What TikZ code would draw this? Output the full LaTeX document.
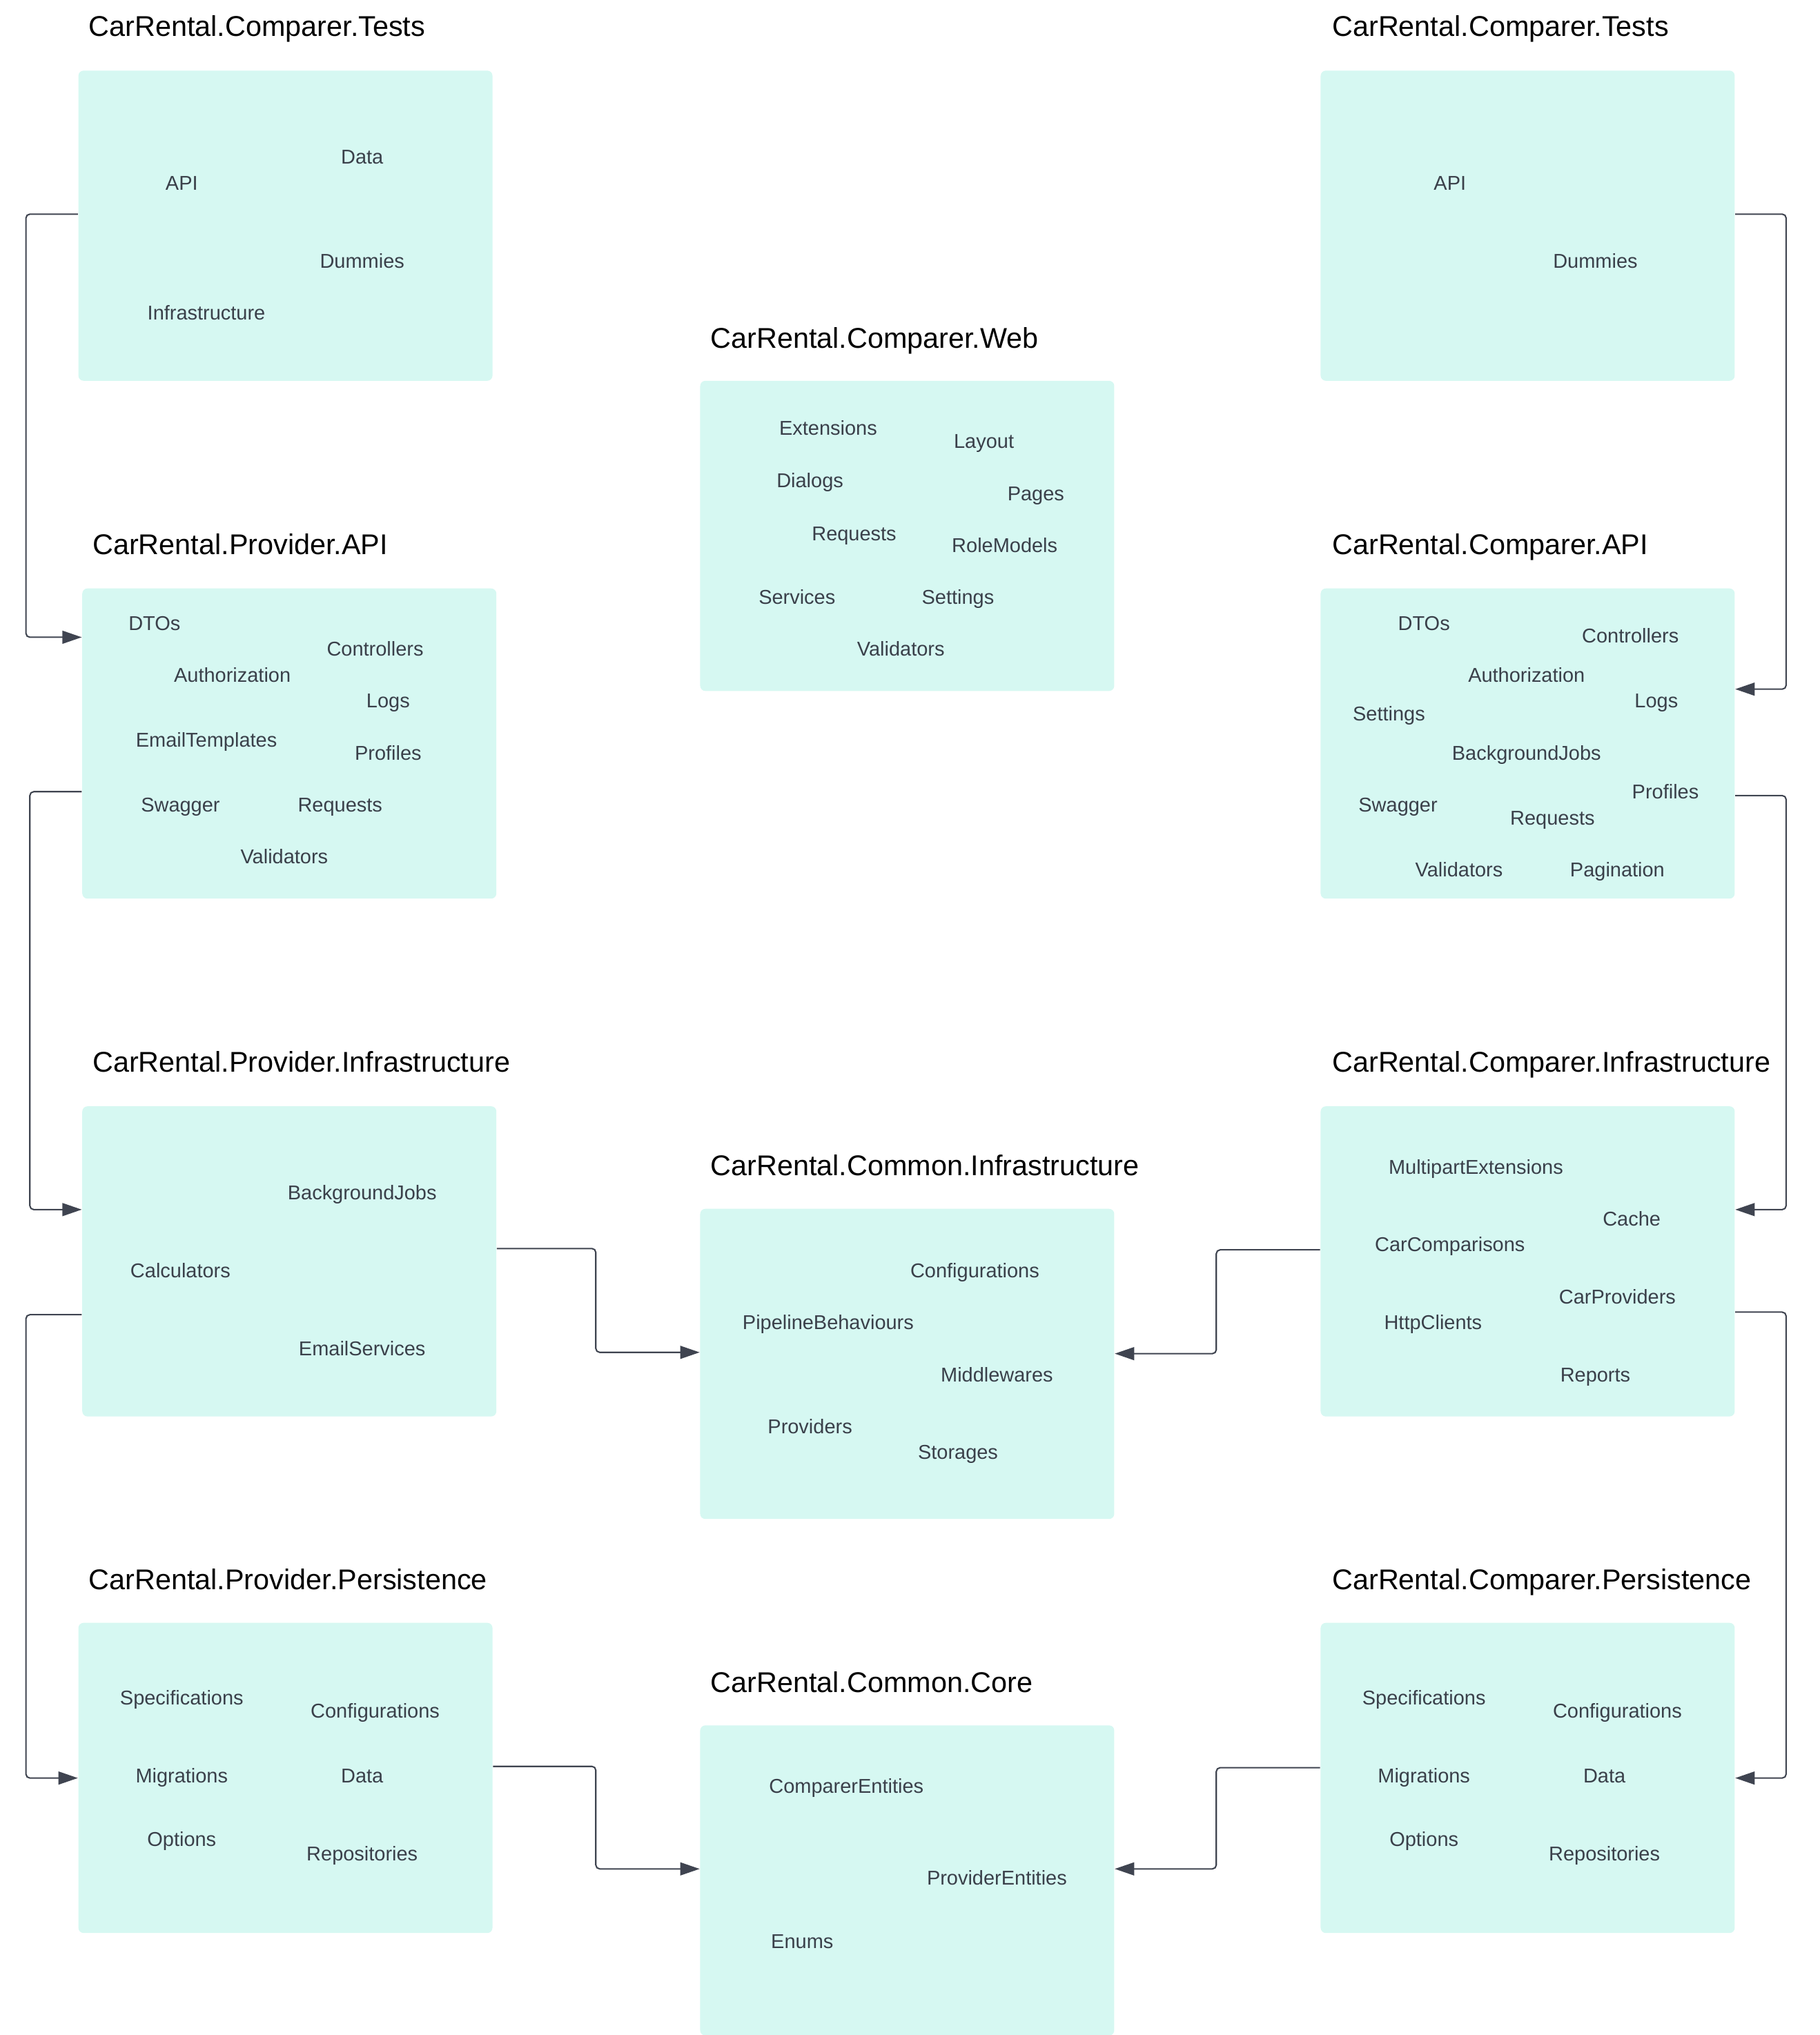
\documentclass[tikz,border=0pt]{standalone}
\usepackage{fontspec}
\setmainfont{Liberation Sans}
\usetikzlibrary{arrows.meta}
\definecolor{boxfill}{HTML}{D6F8F2}
\definecolor{itemtext}{HTML}{3A404A}
\definecolor{linkcol}{HTML}{3F4450}

\begin{document}
\begin{tikzpicture}[
            x=0.5pt, y=-0.5pt,
            pkgbox/.style={fill=boxfill, rounded corners=2pt, inner sep=0pt, anchor=north west,
                minimum width=159.5pt, minimum height=119.5pt},
            pkgtitle/.style={anchor=base west, inner sep=0pt, text=black, font=\fontsize{11}{13}\selectfont},
            pkgitem/.style={anchor=base, inner sep=0pt, text=itemtext, font=\fontsize{7.7}{9}\selectfont},
            link/.style={draw=linkcol, line width=0.55pt, rounded corners=1.5pt,
                -{Triangle[length=7.5pt,width=5pt]}}
        ]
        \useasboundingbox (0,0) rectangle (1402,1568);
        \def\leftrail{20};
        \def\rightrail{1376};
        \def\midrailL{459};
        \def\midrailR{937};

        %Boxes

        \node[pkgbox] (testsL) at (60,54) {};
        \node[pkgbox] (testsR) at (1017,54) {};
        \node[pkgbox] (web) at (539,293) {};
        \node[pkgbox] (provAPI) at (63,453) {};
        \node[pkgbox] (cmpAPI) at (1017,453) {};
        \node[pkgbox] (provInfra) at (63,852) {};
        \node[pkgbox] (cmpInfra) at (1017,852) {};
        \node[pkgbox] (commonInfra) at (539,931) {};
        \node[pkgbox] (provPers) at (60,1250) {};
        \node[pkgbox] (cmpPers) at (1017,1250) {};
        \node[pkgbox] (commonCore) at (539,1329) {};

        %Titles (baselines)

        \node[pkgtitle] (testsL_title) at (68,28) {CarRental.Comparer.Tests};
        \node[pkgtitle] (testsR_title) at (1026,28) {CarRental.Comparer.Tests};
        \node[pkgtitle] (web_title) at (547,268) {CarRental.Comparer.Web};
        \node[pkgtitle] (provAPI_title) at (71,427) {CarRental.Provider.API};
        \node[pkgtitle] (cmpAPI_title) at (1026,427) {CarRental.Comparer.API};
        \node[pkgtitle] (provInfra_title) at (71,826) {CarRental.Provider.Infrastructure};
        \node[pkgtitle] (cmpInfra_title) at (1026,826) {CarRental.Comparer.Infrastructure};
        \node[pkgtitle] (commonInfra_title) at (547,906) {CarRental.Common.Infrastructure};
        \node[pkgtitle] (provPers_title) at (68,1225) {CarRental.Provider.Persistence};
        \node[pkgtitle] (cmpPers_title) at (1026,1225) {CarRental.Comparer.Persistence};
        \node[pkgtitle] (commonCore_title) at (547,1304) {CarRental.Common.Core};

        %% Comparer.Tests (left)

        \node[pkgitem] (testsL_api) at (140,146.5) {API};
        \node[pkgitem] (testsL_data) at (279,126.5) {Data};
        \node[pkgitem] (testsL_dummies) at (279,206.5) {Dummies};
        \node[pkgitem] (testsL_infra) at (159,246.5) {Infrastructure};

        %% Comparer.Tests (right)

        \node[pkgitem] (testsR_api) at (1117,146.5) {API};
        \node[pkgitem] (testsR_dummies) at (1229,206.5) {Dummies};

        %% Comparer.Web

        \node[pkgitem] (web_ext) at (638,335.5) {Extensions};
        \node[pkgitem] (web_layout) at (758,345.5) {Layout};
        \node[pkgitem] (web_dialogs) at (624,375.5) {Dialogs};
        \node[pkgitem] (web_pages) at (798,385.5) {Pages};
        \node[pkgitem] (web_requests) at (658,416.5) {Requests};
        \node[pkgitem] (web_roles) at (774,425.5) {RoleModels};
        \node[pkgitem] (web_services) at (614,465.5) {Services};
        \node[pkgitem] (web_settings) at (738,465.5) {Settings};
        \node[pkgitem] (web_validators) at (694,505.5) {Validators};

        %% Provider.API

        \node[pkgitem] (provAPI_dtos) at (119,485.5) {DTOs};
        \node[pkgitem] (provAPI_ctrl) at (289,505.5) {Controllers};
        \node[pkgitem] (provAPI_auth) at (179,525.5) {Authorization};
        \node[pkgitem] (provAPI_logs) at (299,545.5) {Logs};
        \node[pkgitem] (provAPI_email) at (159,575.5) {EmailTemplates};
        \node[pkgitem] (provAPI_profiles) at (299,585.5) {Profiles};
        \node[pkgitem] (provAPI_swagger) at (139,625.5) {Swagger};
        \node[pkgitem] (provAPI_requests) at (262,625.5) {Requests};
        \node[pkgitem] (provAPI_validators) at (219,665.5) {Validators};

        %% Comparer.API

        \node[pkgitem] (cmpAPI_dtos) at (1097,485.5) {DTOs};
        \node[pkgitem] (cmpAPI_ctrl) at (1256,495.5) {Controllers};
        \node[pkgitem] (cmpAPI_auth) at (1176,525.5) {Authorization};
        \node[pkgitem] (cmpAPI_settings) at (1070,555.5) {Settings};
        \node[pkgitem] (cmpAPI_logs) at (1276,545.5) {Logs};
        \node[pkgitem] (cmpAPI_jobs) at (1176,585.5) {BackgroundJobs};
        \node[pkgitem] (cmpAPI_profiles) at (1283,615.5) {Profiles};
        \node[pkgitem] (cmpAPI_swagger) at (1077,625.5) {Swagger};
        \node[pkgitem] (cmpAPI_requests) at (1196,635.5) {Requests};
        \node[pkgitem] (cmpAPI_validators) at (1124,675.5) {Validators};
        \node[pkgitem] (cmpAPI_pagination) at (1246,675.5) {Pagination};

        %% Provider.Infrastructure

        \node[pkgitem] (provInfra_jobs) at (279,924.5) {BackgroundJobs};
        \node[pkgitem] (provInfra_calc) at (139,984.5) {Calculators};
        \node[pkgitem] (provInfra_email) at (279,1044.5) {EmailServices};

        %% Common.Infrastructure

        \node[pkgitem] (commonInfra_config) at (751,984.5) {Configurations};
        \node[pkgitem] (commonInfra_pipe) at (638,1024.5) {PipelineBehaviours};
        \node[pkgitem] (commonInfra_mw) at (768,1064.5) {Middlewares};
        \node[pkgitem] (commonInfra_prov) at (624,1104.5) {Providers};
        \node[pkgitem] (commonInfra_store) at (738,1124.5) {Storages};

        %% Comparer.Infrastructure

        \node[pkgitem] (cmpInfra_multi) at (1137,904.5) {MultipartExtensions};
        \node[pkgitem] (cmpInfra_cache) at (1257,944.5) {Cache};
        \node[pkgitem] (cmpInfra_cmp) at (1117,964.5) {CarComparisons};
        \node[pkgitem] (cmpInfra_prov) at (1246,1004.5) {CarProviders};
        \node[pkgitem] (cmpInfra_http) at (1104,1024.5) {HttpClients};
        \node[pkgitem] (cmpInfra_reports) at (1229,1064.5) {Reports};

        %% Provider.Persistence

        \node[pkgitem] (provPers_spec) at (140,1313.5) {Specifications};
        \node[pkgitem] (provPers_config) at (289,1323.5) {Configurations};
        \node[pkgitem] (provPers_migr) at (140,1373.5) {Migrations};
        \node[pkgitem] (provPers_data) at (279,1373.5) {Data};
        \node[pkgitem] (provPers_opts) at (140,1422.5) {Options};
        \node[pkgitem] (provPers_repo) at (279,1433.5) {Repositories};

        %% Common.Core

        \node[pkgitem] (commonCore_cmp) at (652,1381.5) {ComparerEntities};
        \node[pkgitem] (commonCore_prov) at (768,1452.5) {ProviderEntities};
        \node[pkgitem] (commonCore_enums) at (618,1501.5) {Enums};

        %% Comparer.Persistence

        \node[pkgitem] (cmpPers_spec) at (1097,1313.5) {Specifications};
        \node[pkgitem] (cmpPers_config) at (1246,1323.5) {Configurations};
        \node[pkgitem] (cmpPers_migr) at (1097,1373.5) {Migrations};
        \node[pkgitem] (cmpPers_data) at (1236,1373.5) {Data};
        \node[pkgitem] (cmpPers_opts) at (1097,1422.5) {Options};
        \node[pkgitem] (cmpPers_repo) at (1236,1433.5) {Repositories};

        %Links

        \draw[link] (testsL.west |- 0,165) -| (\leftrail,491) -- (provAPI.west |- 0,491);
        \draw[link] (provAPI.west |- 0,610) -| (23,932) -- (provInfra.west |- 0,932);
        \draw[link] (provInfra.west |- 0,1013) -| (\leftrail,1370) -- (provPers.west |- 0,1370);
        \draw[link] (provInfra.east |- 0,962) -| (\midrailL,1042) -- (commonInfra.west |- 0,1042);
        \draw[link] (provPers.east |- 0,1361) -| (\midrailL,1440) -- (commonCore.west |- 0,1440);

        \draw[link] (testsR.east |- 0,165) -| (\rightrail,531) -- (cmpAPI.east |- 0,531);
        \draw[link] (cmpAPI.east |- 0,613) -| (\rightrail,932) -- (cmpInfra.east |- 0,932);
        \draw[link] (cmpInfra.east |- 0,1011) -| (\rightrail,1370) -- (cmpPers.east |- 0,1370);
        \draw[link] (cmpInfra.west |- 0,963) -| (\midrailR,1043) -- (commonInfra.east |- 0,1043);
        \draw[link] (cmpPers.west |- 0,1362) -| (\midrailR,1440) -- (commonCore.east |- 0,1440);

    \end{tikzpicture}
\end{document}
